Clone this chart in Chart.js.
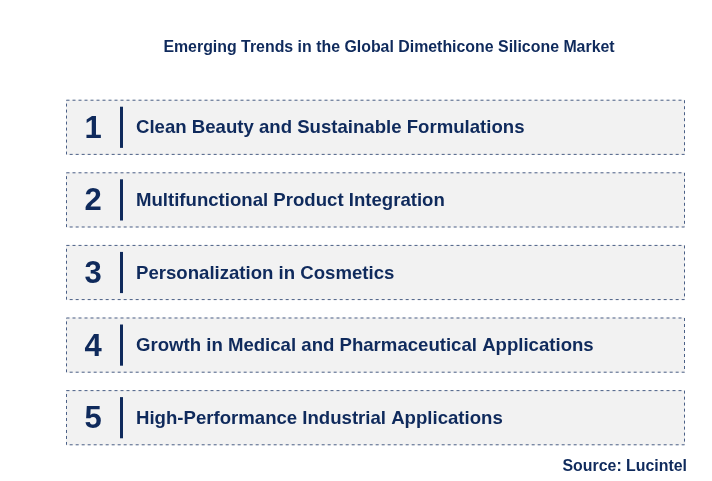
<!DOCTYPE html>
<html><head><meta charset="utf-8">
<script src="https://cdn.jsdelivr.net/npm/chart.js@4/dist/chart.umd.min.js"></script>
<style>html,body{margin:0;padding:0;background:#fff}#w{width:712px;height:481px}</style>
</head><body><div id="w"><canvas id="c"></canvas></div>
<script>
const chartTitle = "Emerging Trends in the Global Dimethicone Silicone Market";
const sourceText = "Source: Lucintel";
const categories = ["1","2","3","4","5"];
const trendLabels = [
  "Clean Beauty and Sustainable Formulations",
  "Multifunctional Product Integration",
  "Personalization in Cosmetics",
  "Growth in Medical and Pharmaceutical Applications",
  "High-Performance Industrial Applications"
];
const boxValues = [100,100,100,100,100];
const navy = "#0f2a5c";

const decor = {
  id: "decor",
  afterDatasetsDraw(chart) {
    const ctx = chart.ctx;
    const meta = chart.getDatasetMeta(0);
    ctx.save();
    meta.data.forEach((bar, i) => {
      const p = bar.getProps(["x","y","base","height"], true);
      const top = p.y - p.height/2, left = p.base;
      ctx.setLineDash([3,3]);
      ctx.strokeStyle = "#4a5f86";
      ctx.lineWidth = 1;
      ctx.strokeRect(left+0.5, top+0.5, p.x-left-1, p.height-1);
      ctx.setLineDash([]);
      ctx.fillStyle = navy;
      ctx.font = "bold 31px 'Liberation Sans', Arial, sans-serif";
      ctx.textAlign = "center"; ctx.textBaseline = "middle";
      ctx.fillText(categories[i], left+27, p.y+2);
      ctx.fillRect(left+54, top+7, 3, p.height-14);
      ctx.font = "bold 18.6px 'Liberation Sans', Arial, sans-serif";
      ctx.textAlign = "left";
      ctx.fillText(trendLabels[i], left+70, p.y+1);
    });
    ctx.fillStyle = navy;
    ctx.font = "bold 15.9px 'Liberation Sans', Arial, sans-serif";
    ctx.textAlign = "center"; ctx.textBaseline = "middle";
    ctx.fillText(chartTitle, 389, 48);
    ctx.textAlign = "right";
    ctx.fillText(sourceText, 687, 467);
    ctx.restore();
  }
};

new Chart(document.getElementById("c"), {
  type: "bar",
  data: { labels: categories, datasets: [{ data: boxValues, backgroundColor: "#f2f2f2", borderWidth: 0,
    barPercentage: 0.76, categoryPercentage: 1 }] },
  options: {
    indexAxis: "y", responsive: true, maintainAspectRatio: false, animation: false,
    layout: { padding: { left: 66, right: 27, top: 91, bottom: 27 } },
    scales: { x: { display: false, min: 0, max: 100 }, y: { display: false } },
    plugins: { legend: { display: false }, tooltip: { enabled: false } }
  },
  plugins: [decor]
});
</script></body></html>
